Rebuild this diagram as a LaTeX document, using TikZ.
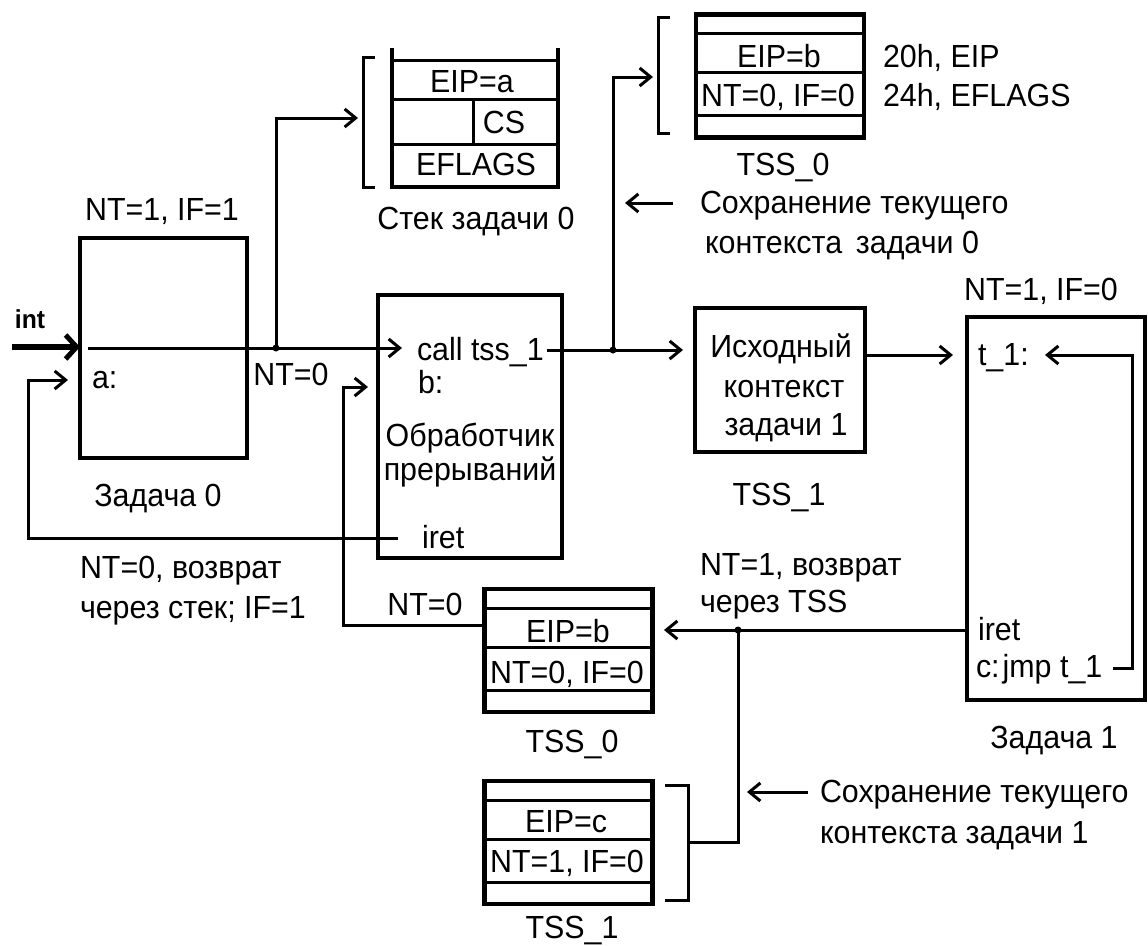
\documentclass[tikz,border=0pt]{standalone}
\usepackage{fontspec}
\setmainfont{Liberation Sans}[FakeStretch=0.95]
\usetikzlibrary{arrows.meta}
\begin{document}
\begin{tikzpicture}[x=1pt,y=-1pt,
  every node/.style={inner sep=0pt, outer sep=0pt, font=\fontsize{32}{38}\selectfont},
  lb/.style={anchor=base},
  lbw/.style={anchor=base west},
  conn/.style={line width=3pt},
  arr/.style={conn, -{Straight Barb[length=11pt,width=18pt,line width=3pt]}},
  bigarr/.style={line width=6.5pt, -{Straight Barb[length=11pt,width=24pt,line width=5pt]}},
  box/.style={draw, line width=4.6pt},
  tss/.style={box, minimum width=168pt, minimum height=123pt},
  dot/.style={fill}
]
\useasboundingbox (0,0) rectangle (1148,945);

% ---- main boxes
\node[box, minimum width=167pt, minimum height=220pt] (z0) at (163.5,348) {};
\node[box, minimum width=184pt, minimum height=263pt] (hd) at (470,426.5) {};
\node[box, minimum width=170pt, minimum height=144pt] (ctx) at (780,380) {};
\node[box, minimum width=178pt, minimum height=383pt] (z1) at (1056,508.5) {};
\node[tss] (tssA) at (780,76) {};
\node[tss] (tssB) at (568.5,650.5) {};
\node[tss] (tssC) at (568.5,842.5) {};

% ---- TSS inner rows
\foreach \t in {tssA,tssB,tssC}{
  \foreach \d in {19,58,101}{
    \draw[conn] ([yshift=-\d pt]\t.north west) -- ([yshift=-\d pt]\t.north east);
  }
}

% ---- stack of task 0
\node[minimum width=166pt, minimum height=139pt] (stk) at (475,117.5) {};
\draw[box] (stk.north west) -- (stk.south west) -- (stk.south east) -- (stk.north east);
\draw[conn] (392,60) -- (558,60);
\draw[conn] (392,99) -- (558,99);
\draw[conn] (392,144) -- (558,144);
\draw[conn] (473,99) -- (473,144);

% ---- brackets
\draw[conn] (375,57) -- (363,57) -- (363,187) -- (375,187);
\draw[conn] (670,17) -- (658,17) -- (658,133) -- (670,133);
\draw[conn] (665,785) -- (688,785) -- (688,900) -- (665,900);

% ---- coordinates
\coordinate (intS) at (12,347);
\coordinate (aS) at (88,348);
\coordinate (j1) at (276,348);
\coordinate (callIn) at (402,348);
\coordinate (stkIn) at (358,118);
\coordinate (iretOut) at (398,538);
\coordinate (aIn) at (68,380);
\coordinate (callOut) at (547,350);
\coordinate (j2) at (613,350);
\coordinate (ctxIn) at (683,350);
\coordinate (tssAIn) at (653,77);
\coordinate (z1In) at (953,355);
\coordinate (jmpOut) at (1113,668);
\coordinate (t1In) at (1045,355);
\coordinate (j3) at (738,630);
\coordinate (tssBIn) at (664,630);
\coordinate (bIn) at (368,387);
\coordinate (sv0S) at (673,203);
\coordinate (sv0E) at (625,203);
\coordinate (sv1S) at (808,792);
\coordinate (sv1E) at (747,792);

% ---- connectors
\draw[bigarr] (intS) -- (intS -| z0.west);
\draw[conn] (aS) -- (j1);
\draw[arr] (j1) -- (callIn);
\draw[arr] (j1) |- (stkIn);
\draw[arr] (iretOut) -- (28,538) |- (aIn);
\draw[conn] (callOut) -- (j2);
\draw[arr] (j2) -- (ctxIn);
\draw[arr] (j2) |- (tssAIn);
\draw[arr] (ctx.east |- z1In) -- (z1In);
\draw[arr] (jmpOut) -- (1132,668) |- (t1In);
\draw[conn] (z1.west |- j3) -- (j3);
\draw[arr] (j3) -- (tssBIn);
\draw[conn] (j3) |- (688,842);
\draw[arr] (tssB.west |- 0,625) -- (343,625) |- (bIn);
\draw[arr] (sv0S) -- (sv0E);
\draw[arr] (sv1S) -- (sv1E);
\fill (j1) circle (3.5pt);
\fill (j2) circle (3.5pt);
\fill (j3) circle (3.5pt);

% ---- texts
\node[lb, font=\fontsize{26}{30}\selectfont\bfseries] (tint) at (30,328) {int};
\node[lb] (tz0f) at (162,220) {NT=1, IF=1};
\node[lbw] (ta) at (92,388) {a:};
\node[lb] (tz0) at (158,506) {Задача 0};
\node[lb] (tnt0a) at (291,385) {NT=0};
\node[lbw] (tret0a) at (80,578) {NT=0, возврат};
\node[lbw] (tret0b) at (80,618) {через стек; IF=1};

\node[lbw] (tcall) at (417,360) {call tss\_1};
\node[lbw] (tb) at (418,393) {b:};
\node[lb] (th1) at (470,446) {Обработчик};
\node[lb] (th2) at (470,480) {прерываний};
\node[lbw] (tiret0) at (422,548) {iret};

\node[lb] (ts1) at (472,92) {EIP=a};
\node[lb] (ts2) at (504,133) {CS};
\node[lb] (ts3) at (476,175) {EFLAGS};
\node[lb] (tstk) at (476,229) {Стек задачи 0};

\node[lb] (ta1) at (779,67) {EIP=b};
\node[lb] (ta2) at (778,106) {NT=0, IF=0};
\node[lbw] (toff1) at (883,67) {20h, EIP};
\node[lbw] (toff2) at (883,106) {24h, EFLAGS};
\node[lb] (tAname) at (783,175) {TSS\_0};
\node[lbw] (tsv0a) at (700,213) {Сохранение текущего};
\node[lbw] (tsv0b) at (705,253) {контекста\, задачи 0};

\node[lb] (tc1) at (781,357) {Исходный};
\node[lb] (tc2) at (784,397) {контекст};
\node[lb] (tc3) at (786,435) {задачи 1};
\node[lb] (tctx) at (779,505) {TSS\_1};

\node[lb] (tz1f) at (1041,300) {NT=1, IF=0};
\node[lbw] (tt1) at (978,365) {t\_1:};
\node[lbw] (tiret1) at (978,640) {iret};
\node[lbw] (tjmp) at (976,677) {c:\hspace{3pt}jmp t\_1};
\node[lb] (tz1) at (1054,748) {Задача 1};
\node[lbw] (tret1a) at (700,575) {NT=1, возврат};
\node[lbw] (tret1b) at (700,612) {через TSS};
\node[lbw] (tsv1a) at (820,802) {Сохранение текущего};
\node[lbw] (tsv1b) at (820,843) {контекста задачи 1};

\node[lb] (tnt0b) at (425,615) {NT=0};
\node[lb] (tb1) at (568,642) {EIP=b};
\node[lb] (tb2) at (567,683) {NT=0, IF=0};
\node[lb] (tBname) at (572,752) {TSS\_0};
\node[lb] (tc1b) at (566,832) {EIP=c};
\node[lb] (tc2b) at (567,872) {NT=1, IF=0};
\node[lb] (tCname) at (572,938) {TSS\_1};
\end{tikzpicture}
\end{document}
